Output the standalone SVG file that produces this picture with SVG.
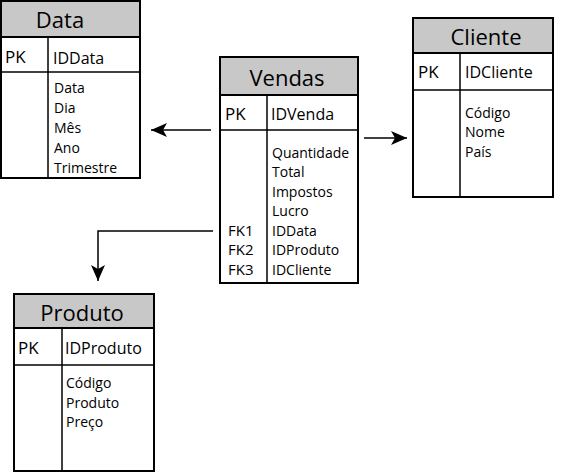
<svg xmlns="http://www.w3.org/2000/svg" width="568" height="473" viewBox="0 0 568 473">
<defs>
<style>
.box{fill:#fff;stroke:#000;stroke-width:2}
.hdr{fill:#c8c8c8;stroke:#000;stroke-width:2}
.ln{stroke:#000;stroke-width:1.5;fill:none}
.t{font-family:"Open Sans","Noto Sans",sans-serif;fill:#000}
.title{font-size:22px;text-anchor:middle}
.key{font-size:17px}
.id{font-size:16px}
.fk{font-size:15px}
.f{font-size:14px}
.con{stroke:#000;stroke-width:1.5;fill:none;marker-end:url(#ah)}
</style>
<marker id="ah" markerUnits="userSpaceOnUse" markerWidth="18" markerHeight="16" refX="16" refY="8" orient="auto">
<path d="M0,1 L16,8 L0,15 L4,8 Z" fill="#000"/>
</marker>
</defs>
<rect width="568" height="473" fill="#fff"/>

<g id="data">
<rect class="box" x="1" y="1" width="139" height="177"/>
<rect class="hdr" x="1" y="1" width="139" height="36"/>
<line class="ln" x1="1" y1="72" x2="140" y2="72"/>
<line class="ln" x1="48" y1="37" x2="48" y2="178"/>
<text class="t title" x="60" y="28">Data</text>
<text class="t key" x="5" y="63">PK</text>
<text class="t id" x="53" y="64">IDData</text>
<text class="t f" x="54" y="93">Data</text>
<text class="t f" x="54" y="113">Dia</text>
<text class="t f" x="54" y="133">Mês</text>
<text class="t f" x="54" y="153">Ano</text>
<text class="t f" x="54" y="173">Trimestre</text>
</g>

<g id="vendas">
<rect class="box" x="220" y="57" width="138" height="226"/>
<rect class="hdr" x="220" y="57" width="138" height="38"/>
<line class="ln" x1="220" y1="130" x2="358" y2="130"/>
<line class="ln" x1="267" y1="95" x2="267" y2="283"/>
<text class="t title" x="287" y="86">Vendas</text>
<text class="t key" x="225" y="120">PK</text>
<text class="t id" x="271" y="120">IDVenda</text>
<text class="t f" x="272" y="158">Quantidade</text>
<text class="t f" x="272" y="177">Total</text>
<text class="t f" x="272" y="197">Impostos</text>
<text class="t f" x="272" y="216">Lucro</text>
<text class="t f" x="272" y="236">IDData</text>
<text class="t f" x="272" y="255">IDProduto</text>
<text class="t f" x="272" y="275">IDCliente</text>
<text class="t fk" x="228" y="236">FK1</text>
<text class="t fk" x="228" y="255">FK2</text>
<text class="t fk" x="228" y="275">FK3</text>
</g>

<g id="cliente">
<rect class="box" x="413" y="18" width="140" height="179"/>
<rect class="hdr" x="413" y="18" width="140" height="35"/>
<line class="ln" x1="413" y1="90" x2="553" y2="90"/>
<line class="ln" x1="460" y1="53" x2="460" y2="197"/>
<text class="t title" x="486" y="45">Cliente</text>
<text class="t key" x="418" y="78">PK</text>
<text class="t id" x="465" y="78">IDCliente</text>
<text class="t f" x="465" y="118">Código</text>
<text class="t f" x="465" y="137">Nome</text>
<text class="t f" x="465" y="157">País</text>
</g>

<g id="produto">
<rect class="box" x="14" y="294" width="140" height="177"/>
<rect class="hdr" x="14" y="294" width="140" height="34"/>
<line class="ln" x1="14" y1="365" x2="154" y2="365"/>
<line class="ln" x1="62" y1="328" x2="62" y2="471"/>
<text class="t title" x="82" y="321">Produto</text>
<text class="t key" x="18" y="354">PK</text>
<text class="t id" x="65" y="354">IDProduto</text>
<text class="t f" x="66" y="388">Código</text>
<text class="t f" x="66" y="408">Produto</text>
<text class="t f" x="66" y="427">Preço</text>
</g>

<g id="connectors">
<path class="con" d="M211,130 L151,130"/>
<path class="con" d="M364,138 L407,138"/>
<path class="con" d="M213,231 L98,231 L98,281"/>
</g>
</svg>
